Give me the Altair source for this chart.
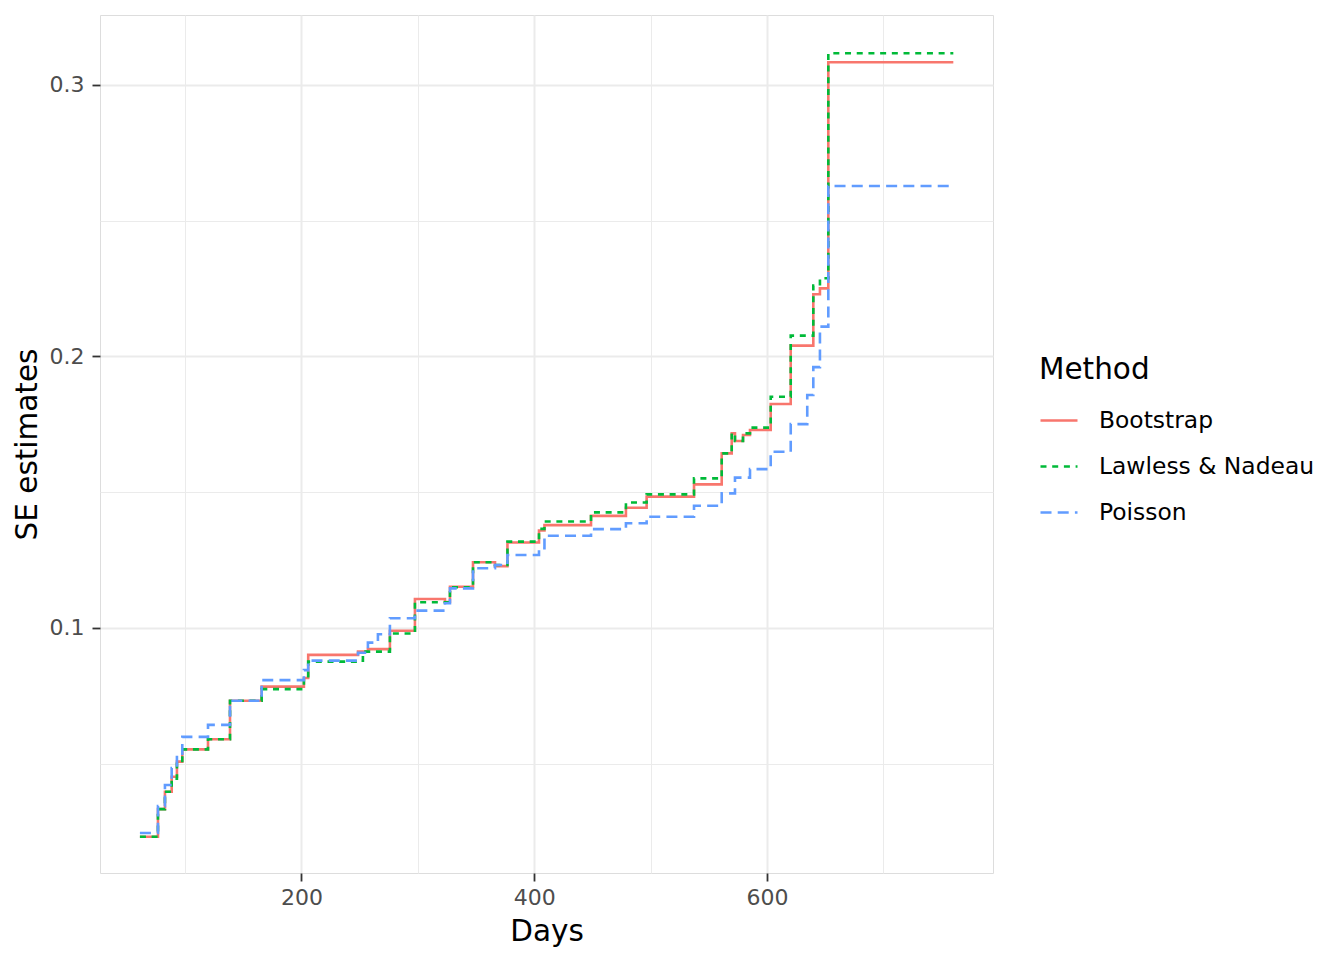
import altair as alt
import pandas as pd

# step times (days) shared by all three series
times = [61.2, 76.7, 82.7, 88.5, 93.0, 97.6, 119.7, 138.6, 165.8, 202.1, 205.8,
         248.6, 252.8, 257.1, 265.7, 276.0, 297.5, 323.3, 327.6, 347.4, 366.3,
         377.0, 404.1, 408.8, 448.8, 478.8, 496.6, 537.3, 561.1, 569.7, 572.5,
         579.4, 585.4, 603.2, 620.4, 634.6, 639.8, 645.5, 652.7, 760.1]

bootstrap = [0.0231, 0.0333, 0.0397, 0.0452, 0.0508, 0.0553, 0.0590, 0.0732, 0.0784, 0.0816, 0.0901,
             0.0913, 0.0913, 0.0922, 0.0922, 0.0990, 0.1107, 0.1096, 0.1152, 0.1242, 0.1228,
             0.1315, 0.1359, 0.1379, 0.1413, 0.1443, 0.1484, 0.1529, 0.1643, 0.1717, 0.1689,
             0.1711, 0.1729, 0.1825, 0.2040, 0.2040, 0.2229, 0.2251, 0.3084, 0.3084]

lawless = [0.0231, 0.0333, 0.0397, 0.0445, 0.0505, 0.0553, 0.0590, 0.0732, 0.0775, 0.0808, 0.0876,
           0.0880, 0.0913, 0.0913, 0.0913, 0.0980, 0.1095, 0.1095, 0.1150, 0.1242, 0.1232,
           0.1318, 0.1365, 0.1392, 0.1426, 0.1462, 0.1492, 0.1551, 0.1643, 0.1717, 0.1689,
           0.1717, 0.1738, 0.1852, 0.2077, 0.2077, 0.2261, 0.2288, 0.3117, 0.3117]

poisson = [0.0245, 0.0344, 0.0422, 0.0484, 0.0530, 0.0599, 0.0643, 0.0732, 0.0808, 0.0845, 0.0880,
           0.0909, 0.0909, 0.0946, 0.0977, 0.1036, 0.1064, 0.1091, 0.1146, 0.1220, 0.1232,
           0.1269, 0.1294, 0.1340, 0.1364, 0.1386, 0.1410, 0.1450, 0.1496, 0.1496, 0.1554,
           0.1554, 0.1585, 0.1649, 0.1751, 0.1858, 0.1961, 0.2110, 0.2628, 0.2628]

methods = ["Bootstrap", "Lawless & Nadeau", "Poisson"]
colors = ["#F8766D", "#00BA38", "#619CFF"]
dashes = [[1, 0], [6, 5.7], [11, 6.2]]

x_major = [200, 400, 600]
x_minor = [100, 300, 500, 700]
y_major = [0.1, 0.2, 0.3]
y_minor = [0.05, 0.15, 0.25]

rows = []
for m, vals in zip(methods, [bootstrap, lawless, poisson]):
    for t, v in zip(times, vals):
        rows.append({"Days": t, "SE": v, "Method": m})
df = pd.DataFrame(rows)

FONT = "DejaVu Sans"
xscale = alt.Scale(domain=[26.9, 794.2], nice=False, zero=False)
yscale = alt.Scale(domain=[0.00976, 0.32578], nice=False, zero=False)

minor = alt.Chart(df).mark_line(opacity=0).encode(
    x=alt.X("Days:Q", scale=xscale,
            axis=alt.Axis(values=x_minor, orient="top", labels=False, ticks=False,
                          domain=False, title=None, grid=True,
                          gridColor="#EBEBEB", gridWidth=1)),
    y=alt.Y("SE:Q", scale=yscale,
            axis=alt.Axis(values=y_minor, orient="right", labels=False, ticks=False,
                          domain=False, title=None, grid=True,
                          gridColor="#EBEBEB", gridWidth=1)),
)

main = alt.Chart(df).mark_line(interpolate="step-after", strokeWidth=2.6).encode(
    x=alt.X("Days:Q", scale=xscale,
            axis=alt.Axis(values=x_major, orient="bottom", title="Days", grid=True,
                          gridColor="#EBEBEB", gridWidth=2, domain=False,
                          tickColor="#333333", tickWidth=1.8, tickSize=8,
                          labelColor="#4D4D4D", labelFontSize=22, labelFont=FONT,
                          labelPadding=6, titleFont=FONT, titleFontSize=29.5,
                          titleFontWeight="normal", titleColor="black", titlePadding=9)),
    y=alt.Y("SE:Q", scale=yscale,
            axis=alt.Axis(values=y_major, orient="left", title="SE estimates", grid=True,
                          gridColor="#EBEBEB", gridWidth=2, domain=False,
                          tickColor="#333333", tickWidth=1.8, tickSize=8,
                          labelColor="#4D4D4D", labelFontSize=22, labelFont=FONT,
                          labelPadding=8, titleFont=FONT, titleFontSize=29.5,
                          titleFontWeight="normal", titleColor="black", titlePadding=7)),
    color=alt.Color("Method:N", scale=alt.Scale(domain=methods, range=colors),
                    legend=alt.Legend(title="Method", orient="none", legendX=939, legendY=341,
                                      titleFont=FONT, titleFontSize=29.5, titleFontWeight="normal",
                                      titleColor="black", titlePadding=15,
                                      labelFont=FONT, labelFontSize=23.4, labelColor="black",
                                      labelLimit=400, labelOffset=20, symbolType="stroke",
                                      symbolSize=1369, symbolStrokeWidth=2.4, rowPadding=14)),
    strokeDash=alt.StrokeDash("Method:N", scale=alt.Scale(domain=methods, range=dashes),
                              legend=alt.Legend(title="Method", orient="none", legendX=939,
                                                legendY=341)),
)

chart = alt.layer(minor, main).resolve_axis(x="independent", y="independent").properties(
    width=893, height=858,
    autosize=alt.AutoSizeParams(type="none"),
    padding={"left": 92, "top": 7, "right": 343, "bottom": 79},
).configure_view(stroke="#333333", strokeWidth=1.1).configure(background="white")

chart.save("out.html", embed_options={"renderer": "svg", "actions": False})
